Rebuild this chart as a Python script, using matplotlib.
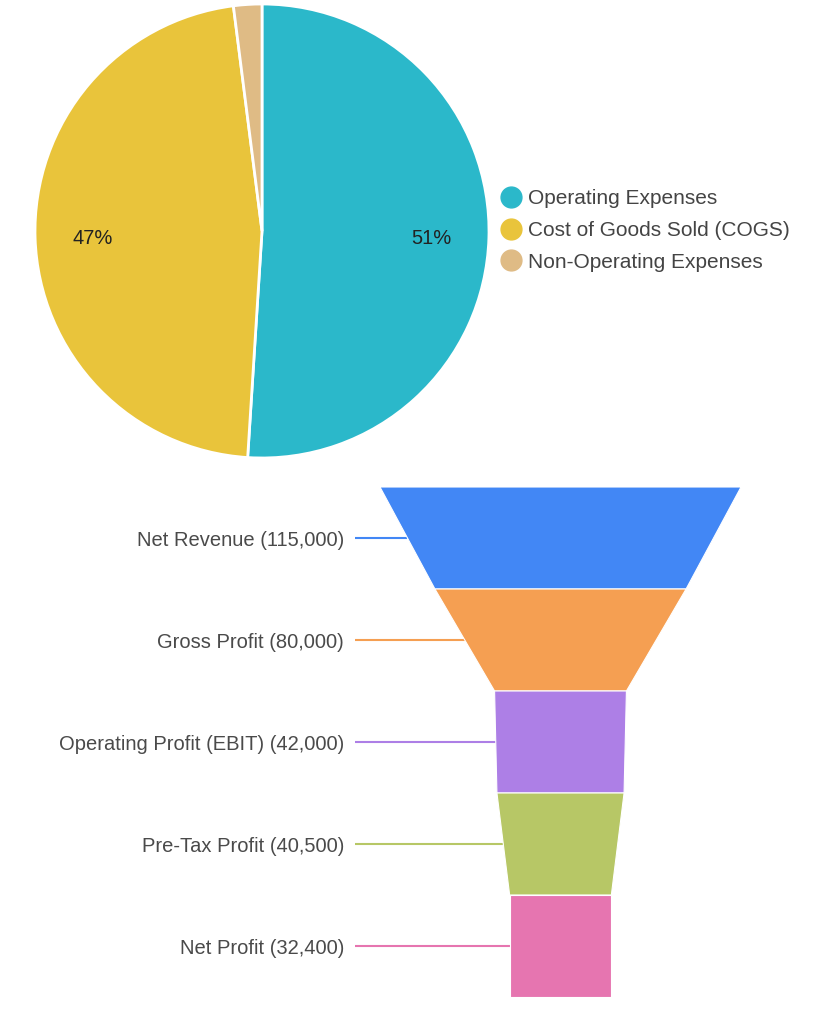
import matplotlib
matplotlib.use("Agg")
import matplotlib.pyplot as plt
from matplotlib.patches import Polygon
from matplotlib.lines import Line2D

plt.rcParams['font.family'] = ['Liberation Sans', 'DejaVu Sans']

# pie data
exp_labels = ["Operating Expenses", "Cost of Goods Sold (COGS)", "Non-Operating Expenses"]
exp_values = [38000, 35000, 1500]
exp_colors = ["#2bb8ca", "#e9c43b", "#dfbb85"]

# funnel data
stage_names = ["Net Revenue", "Gross Profit", "Operating Profit (EBIT)", "Pre-Tax Profit", "Net Profit"]
stage_values = [115000, 80000, 42000, 40500, 32400]
stage_colors = ["#4287f5", "#f59f52", "#ad7fe6", "#b7c766", "#e675b0"]

W, H = 826, 1024
fig = plt.figure(figsize=(W / 100, H / 100), dpi=100)

# pie: centre (262, 231), radius ~227 px
ax1 = fig.add_axes([35 / W, 1 - 458 / H, 454 / W, 454 / H])
wedges, texts, autotexts = ax1.pie(
    exp_values, colors=exp_colors, startangle=90, counterclock=False,
    autopct=lambda p: f"{p:.0f}%" if p > 5 else "", pctdistance=0.745,
    wedgeprops=dict(edgecolor="white", linewidth=2), radius=1)
for t in autotexts:
    t.set_fontsize(14.5)
    t.set_color("#222222")
    t.set_va("center_baseline")
ax1.set_xlim(-1, 1)
ax1.set_ylim(-1, 1)
ax1.set_aspect("equal")

handles = [Line2D([0], [0], marker="o", linestyle="", markersize=15,
                  markerfacecolor=c, markeredgecolor=c) for c in exp_colors]
fig.legend(handles, exp_labels, loc="center left", bbox_to_anchor=(500.5 / W, 1 - 230.5 / H),
           frameon=False, fontsize=15, labelcolor="#444444", handletextpad=0.32,
           labelspacing=0.6, borderpad=0, borderaxespad=0, handlelength=1.0)

# funnel: top at y=487, each stage 102 px, top width 361 px centred at 560.5
top_w = 361
ax2 = fig.add_axes([(560.5 - top_w / 2) / W, 1 - 997 / H, top_w / W, 510 / H])
half = stage_values[0] / 2
ax2.set_xlim(-half, half)
ax2.set_ylim(len(stage_values), 0)
ax2.axis("off")
unit_px = stage_values[0] / top_w  # data units per pixel

for i, (name, v, c) in enumerate(zip(stage_names, stage_values, stage_colors)):
    nxt = stage_values[i + 1] if i + 1 < len(stage_values) else v
    poly = Polygon([(-v / 2, i), (v / 2, i), (nxt / 2, i + 1), (-nxt / 2, i + 1)],
                   closed=True, facecolor=c, edgecolor="white", linewidth=0.8)
    ax2.add_patch(poly)
    ym = i + 0.5
    left_mid = -(v + nxt) / 4
    x_line0 = -half - 25 * unit_px
    ax2.plot([x_line0, left_mid], [ym, ym], color=c, linewidth=1.5, clip_on=False,
             solid_capstyle="butt", zorder=0)
    ax2.text(-half - 36 * unit_px, ym, f"{name} ({v:,})", ha="right", va="center_baseline",
             fontsize=14.5, color="#4a4a4a", clip_on=False)

fig.savefig("out.png", dpi=100)
